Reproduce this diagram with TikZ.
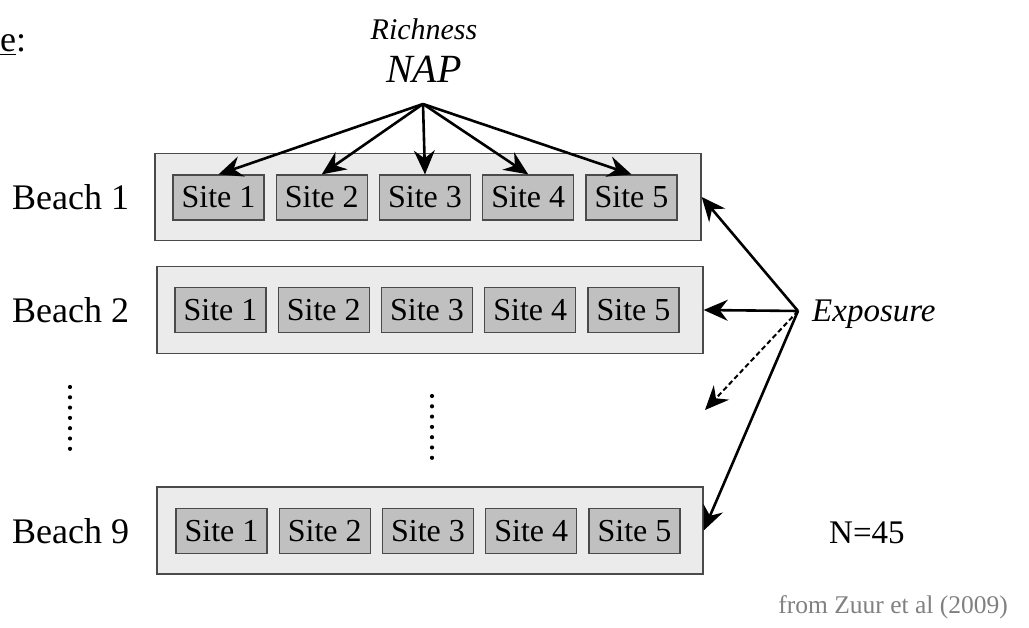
\documentclass[tikz,border=0pt]{standalone}
\usepackage{fontspec}
\setmainfont{Liberation Serif}
\usetikzlibrary{arrows.meta}
\definecolor{beachfill}{HTML}{EBEBEB}
\definecolor{sitefill}{HTML}{C0C0C0}
\definecolor{edgegray}{HTML}{4A4A4A}
\definecolor{srcgray}{HTML}{808080}
\tikzset{
  beachbox/.style={draw=edgegray, line width=1.4pt, fill=beachfill, minimum width=546pt, minimum height=87pt, inner sep=0pt},
  sitebox/.style={draw=edgegray, line width=1.2pt, fill=sitefill, minimum width=91pt, minimum height=45pt, inner sep=0pt, font=\fontsize{32}{36}\selectfont},
  lbl/.style={inner sep=0pt, font=\fontsize{36}{40}\selectfont},
  arr/.style={line width=2.6pt, -{Stealth[length=24pt,width=21pt,inset=8pt]}},
  dotcol/.style={line width=4.2pt, line cap=round, dash pattern=on 0pt off 10.3pt}
}
\begin{document}
\begin{tikzpicture}[x=1pt,y=-1pt]
\useasboundingbox (0,0) rectangle (1029,628);
% header fragment
\node[lbl, anchor=base west] (hdr) at (0,52) {\underline{e}:};
% beaches
\node[beachbox] (b1) at (428,197) {};
\node[beachbox] (b2) at (430,310) {};
\node[beachbox] (b9) at (430,530.5) {};
\foreach \k in {1,...,5}{
  \node[sitebox] (s1\k) at ({218.5+103.25*(\k-1)},197.5) {Site \k};
  \node[sitebox] (s2\k) at ({220.5+103.25*(\k-1)},310) {Site \k};
  \node[sitebox] (s9\k) at ({221.5+103.25*(\k-1)},531) {Site \k};
}
\node[lbl, anchor=west] (l1) at (12,197) {Beach 1};
\node[lbl, anchor=west] (l2) at (12,310) {Beach 2};
\node[lbl, anchor=west] (l9) at (12,531) {Beach 9};
% dots
\draw[dotcol] (70,387) -- (70,450);
\draw[dotcol] (432,396) -- (432,459);
% Richness NAP
\node[inner sep=0pt, anchor=base, font=\fontsize{30}{34}\selectfont\itshape] (rich) at (424,40) {Richness};
\node[inner sep=0pt, anchor=base, font=\fontsize{40}{44}\selectfont\itshape] (nap) at (424,83) {NAP};
\coordinate (rn) at (423,104);
\foreach \k in {1,...,5}{
  \draw[arr] (rn) -- (s1\k.north);
}
% Exposure
\node[inner sep=0pt, anchor=base west, font=\fontsize{33}{38}\selectfont\itshape] (exp) at (812,322) {Exposure};
\coordinate (ex) at (798,311);
\coordinate (dend) at (705,410);
\draw[arr] (ex) -- (b1.east);
\draw[arr] (ex) -- (b2.east);
\draw[arr, line width=2pt, dash pattern=on 5pt off 3pt] (ex) -- (dend);
\draw[arr] (ex) -- (b9.east);
% N and source
\node[inner sep=0pt, anchor=base west, font=\fontsize{33}{38}\selectfont] (n) at (829,543) {N=45};
\node[inner sep=0pt, anchor=base east, text=srcgray, font=\fontsize{25.5}{30}\selectfont] (src) at (1008,613) {from Zuur et al (2009)};
\end{tikzpicture}
\end{document}
